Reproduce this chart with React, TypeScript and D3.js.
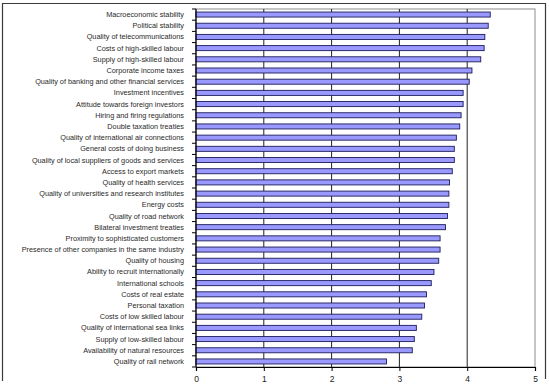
import React, { useRef, useEffect } from "react";
import * as d3 from "d3";

// factors, top to bottom
const factors = [
    "Macroeconomic stability",
    "Political stability",
    "Quality of telecommunications",
    "Costs of high-skilled labour",
    "Supply of high-skilled labour",
    "Corporate income taxes",
    "Quality of banking and other financial services",
    "Investment incentives",
    "Attitude towards foreign investors",
    "Hiring and firing regulations",
    "Double taxation treaties",
    "Quality of international air connections",
    "General costs of doing business",
    "Quality of local suppliers of goods and services",
    "Access to export markets",
    "Quality of health services",
    "Quality of universities and research institutes",
    "Energy costs",
    "Quality of road network",
    "Bilateral investment treaties",
    "Proximity to sophisticated customers",
    "Presence of other companies in the same industry",
    "Quality of housing",
    "Ability to recruit internationally",
    "International schools",
    "Costs of real estate",
    "Personal taxation",
    "Costs of low skilled labour",
    "Quality of international sea links",
    "Supply of low-skilled labour",
    "Availability of natural resources",
    "Quality of rail network",
];

const scores = [
    4.34, 4.31, 4.26, 4.25, 4.20, 4.07, 4.03, 3.94, 3.94, 3.91, 3.89,
    3.84, 3.81, 3.81, 3.78, 3.74, 3.73, 3.73, 3.71, 3.68, 3.60, 3.60,
    3.58, 3.51, 3.47, 3.40, 3.37, 3.33, 3.25, 3.22, 3.19, 2.81,
];

const xTicks = [0, 1, 2, 3, 4, 5];

export default function App() {
    const svgRef = useRef(null);

    const W = 549, H = 391;
    const margin = { top: 9, right: 14, bottom: 24, left: 196 };
    const width = W - margin.left - margin.right;
    const height = H - margin.top - margin.bottom;

    useEffect(() => {
        const root = d3.select(svgRef.current);
        root.selectAll("*").remove();

        const data = factors.map((f, i) => ({ name: f, value: scores[i] }));

        // outer chart frame (bottom edge falls outside the view)
        root.append("path")
            .attr("d", `M2.5,381 V3.5 H545.5 V379`)
            .attr("fill", "none")
            .attr("stroke", "#3a3a3a")
            .attr("stroke-width", 1.2);

        const svg = root.append("g")
            .attr("transform", "translate(" + margin.left + "," + margin.top + ")");

        const x = d3.scaleLinear().domain([0, 5]).range([0, width]);
        const y = d3.scaleBand().domain(factors).range([0, height]).paddingInner(0.55).paddingOuter(0.27);

        // plot area border
        svg.append("rect")
            .attr("x", 0).attr("y", 0)
            .attr("width", width).attr("height", height)
            .attr("fill", "none")
            .attr("stroke", "#8c8c8c")
            .attr("stroke-width", 1);

        // vertical gridlines
        svg.append("g")
            .selectAll("line")
            .data(xTicks.filter(t => t > 0 && t < 5))
            .join("line")
            .attr("x1", d => x(d)).attr("x2", d => x(d))
            .attr("y1", 0).attr("y2", height)
            .attr("stroke", "#222")
            .attr("stroke-width", 1);

        // bars
        svg.append("g")
            .selectAll("rect")
            .data(data)
            .join("rect")
            .attr("x", x(0))
            .attr("y", d => y(d.name))
            .attr("width", d => x(d.value) - x(0))
            .attr("height", y.bandwidth())
            .attr("fill", "#9999ff")
            .attr("stroke", "#1c1c5a")
            .attr("stroke-width", 0.9);

        // category axis: boundary ticks on the left
        const step = height / factors.length;
        const bounds = d3.range(factors.length + 1).map(i => i * step);
        svg.append("g")
            .selectAll("line")
            .data(bounds)
            .join("line")
            .attr("x1", -4).attr("x2", 0)
            .attr("y1", d => d).attr("y2", d => d)
            .attr("stroke", "#000")
            .attr("stroke-width", 1);
        svg.append("line")
            .attr("x1", 0).attr("x2", 0)
            .attr("y1", 0).attr("y2", height)
            .attr("stroke", "#000")
            .attr("stroke-width", 1.2);

        svg.append("g")
            .selectAll("text")
            .data(factors)
            .join("text")
            .attr("x", -12)
            .attr("y", d => y(d) + y.bandwidth() / 2)
            .attr("dy", "0.35em")
            .attr("text-anchor", "end")
            .attr("font-family", "Liberation Sans, Arial, sans-serif")
            .attr("font-size", "7.3px")
            .attr("fill", "#2a2a2a")
            .text(d => d);

        // value axis
        const xAxis = svg.append("g")
            .attr("transform", "translate(0," + height + ")")
            .call(d3.axisBottom(x).tickValues(xTicks).tickFormat(d3.format("d")).tickSize(4).tickPadding(5));
        xAxis.select(".domain").attr("stroke", "#000").attr("stroke-width", 1.2);
        xAxis.selectAll(".tick line").attr("stroke", "#000");
        xAxis.selectAll("text")
            .attr("font-family", "Liberation Sans, Arial, sans-serif")
            .attr("font-size", "8.5px")
            .attr("fill", "#1a1a1a");
    }, []);

    return (
        <div>
            <svg ref={svgRef} width={W} height={H}
                style={{ position: "absolute", left: 0, top: 0, background: "#fff" }} />
        </div>
    );
};
